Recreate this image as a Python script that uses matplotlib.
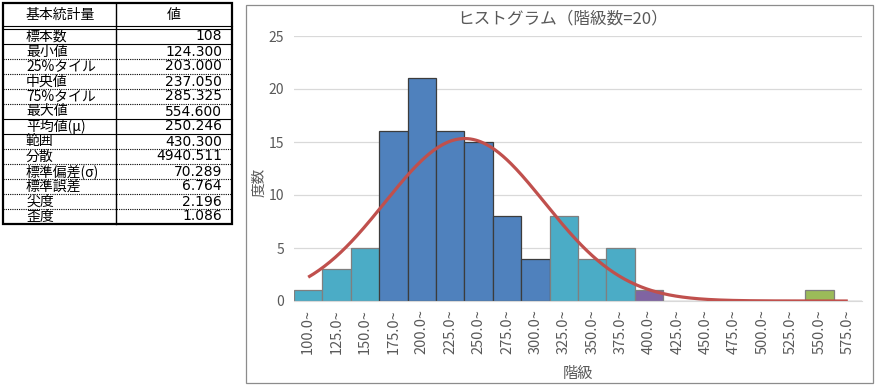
import numpy as np
import matplotlib

matplotlib.use("Agg")
import matplotlib.pyplot as plt
from matplotlib.patches import Rectangle

plt.rcParams["font.family"] = ["Noto Sans CJK JP", "DejaVu Sans"]

# --- data -------------------------------------------------------------
stat_names = ["標本数", "最小値", "25%タイル", "中央値", "75%タイル", "最大値",
              "平均値(μ)", "範囲", "分散", "標準偏差(σ)", "標準誤差", "尖度", "歪度"]
stat_values = ["108", "124.300", "203.000", "237.050", "285.325", "554.600",
               "250.246", "430.300", "4940.511", "70.289", "6.764", "2.196", "1.086"]

bin_labels = ["100.0~", "125.0~", "150.0~", "175.0~", "200.0~", "225.0~", "250.0~",
              "275.0~", "300.0~", "325.0~", "350.0~", "375.0~", "400.0~", "425.0~",
              "450.0~", "475.0~", "500.0~", "525.0~", "550.0~", "575.0~"]
counts = [1, 3, 5, 16, 21, 16, 15, 8, 4, 8, 4, 5, 1, 0, 0, 0, 0, 0, 1, 0]

n_samples = 108
mean = 250.246
sigma = 70.289
bin_start = 100.0
bin_width = 25.0

# --- colours ------------------------------------------------------------
CYAN = "#4BACC6"
BLUE = "#4F81BD"
PURPLE = "#8064A2"
GREEN = "#9BBB59"
RED = "#C0504D"
GREY = "#595959"
bar_colors = [CYAN] * 3 + [BLUE] * 6 + [CYAN] * 3 + [PURPLE] + [CYAN] * 5 + [GREEN] + [CYAN]
edge_colors = ["#3c3c3c" if c == BLUE else "#7f7f7f" for c in bar_colors]

W, H = 878, 390
fig = plt.figure(figsize=(W / 100, H / 100), dpi=100, facecolor="white")

# --- histogram ----------------------------------------------------------
ax = fig.add_axes([294 / W, 1 - 301 / H, 568 / W, 265 / H])
pos = np.arange(len(counts))
ax.bar(pos, counts, width=1.0, color=bar_colors, edgecolor=edge_colors,
       linewidth=0.9, zorder=2)

# fitted normal curve (from table mean / sigma), drawn between bin centres
xs = np.linspace(bin_start + bin_width / 2, bin_start + bin_width * (len(counts) - 0.5), 400)
ys = n_samples * bin_width / (sigma * np.sqrt(2 * np.pi)) * np.exp(-0.5 * ((xs - mean) / sigma) ** 2)
ax.plot((xs - bin_start) / bin_width - 0.5, ys, color=RED, linewidth=2.3,
        solid_capstyle="butt", zorder=3)

ax.set_xlim(-0.5, len(counts) - 0.5)
ax.set_ylim(0, 25)
ax.set_yticks([0, 5, 10, 15, 20, 25])
ax.set_xticks(pos)
ax.set_xticklabels(bin_labels, rotation=90, fontsize=10.5, color=GREY)
ax.tick_params(axis="x", length=0, pad=6)
ax.tick_params(axis="y", length=0, pad=7, labelsize=10, labelcolor=GREY)
ax.grid(axis="y", color="#D9D9D9", linewidth=0.9, zorder=0)
ax.set_axisbelow(True)
for name, spine in ax.spines.items():
    if name == "bottom":
        spine.set_color("#D9D9D9")
    else:
        spine.set_visible(False)

# --- overlay in pixel coords: table, chart frame, titles ----------------
ov = fig.add_axes([0, 0, 1, 1], zorder=5)
ov.set_xlim(0, W)
ov.set_ylim(H, 0)
ov.axis("off")
ov.patch.set_alpha(0)

ov.add_patch(Rectangle((246, 5), 627, 378, fill=False, edgecolor="#8c8c8c", linewidth=0.9))
ov.text(563, 19, "ヒストグラム（階級数=20）", ha="center", va="center", fontsize=12, color=GREY)
ov.text(578, 373, "階級", ha="center", va="center", fontsize=11, color=GREY)
ov.text(259, 182, "度数", ha="center", va="center", fontsize=10.5, color=GREY, rotation=90)

# table
tl, tr, tc = 3, 232, 116
top, head_b = 3, 28.5
row_h = 15.0
bottom = head_b + row_h * len(stat_names)

ov.text(60, 15, "基本統計量", ha="center", va="center", fontsize=10, color="black")
ov.text(174, 15, "値", ha="center", va="center", fontsize=10, color="black")
ov.plot([tl, tr], [head_b - 3, head_b - 3], color="black", linewidth=0.8)
ov.plot([tl, tr], [head_b, head_b], color="black", linewidth=0.8)

solid_after = {0, 5, 6}
for i, (name, val) in enumerate(zip(stat_names, stat_values)):
    yc = head_b + row_h * (i + 0.5)
    ov.text(26, yc + 0.5, name, ha="left", va="center", fontsize=10, color="black")
    ov.text(222, yc + 0.5, val, ha="right", va="center", fontsize=10,
            family="DejaVu Sans", color="black")
    if i < len(stat_names) - 1:
        yl = head_b + row_h * (i + 1)
        ls = "-" if i in solid_after else (0, (1, 1))
        ov.plot([tl, tr], [yl, yl], color="black", linewidth=0.8, linestyle=ls)

ov.plot([tc, tc], [top, bottom], color="black", linewidth=1.0)
ov.add_patch(Rectangle((tl, top), tr - tl, bottom - top, fill=False,
                       edgecolor="black", linewidth=1.6))

fig.savefig("out.png", dpi=100, facecolor="white")
plt.close(fig)
